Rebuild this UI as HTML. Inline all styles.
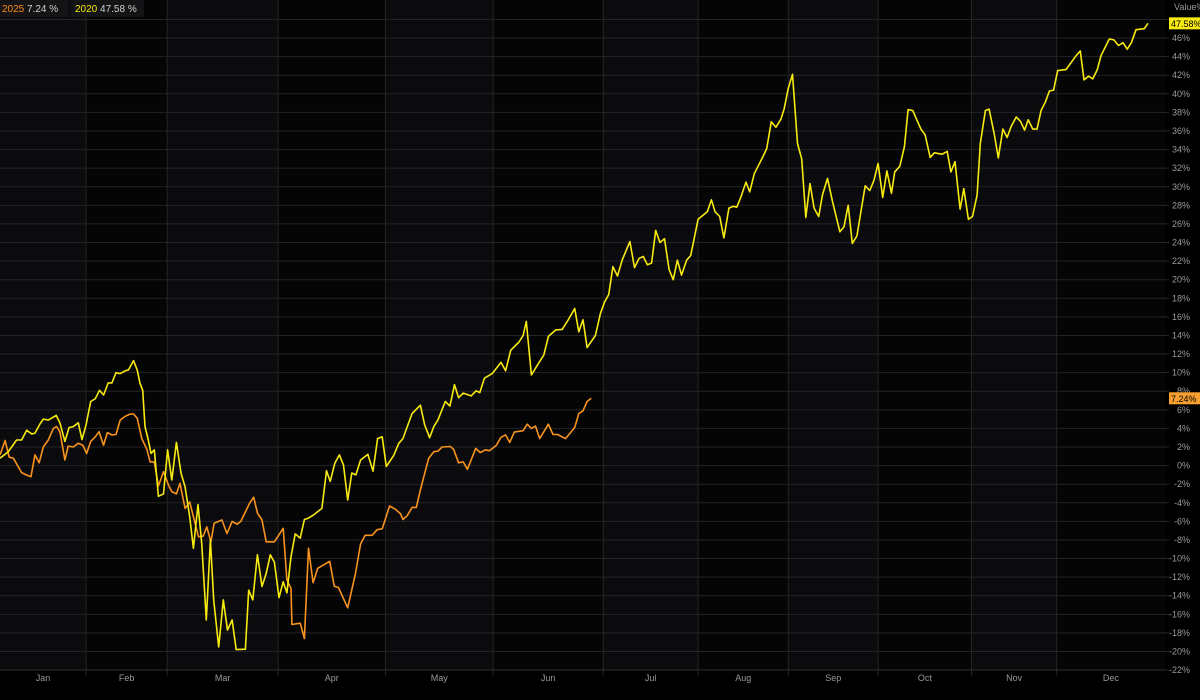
<!DOCTYPE html>
<html><head><meta charset="utf-8"><style>
html,body{margin:0;padding:0;background:#000;}
body{width:1200px;height:695px;overflow:hidden;font-family:"Liberation Sans",sans-serif;}
svg text{font-family:"Liberation Sans",sans-serif;}
</style></head><body>
<svg id="chart" width="1200" height="695" viewBox="0 0 1200 695" xmlns="http://www.w3.org/2000/svg">
<rect x="0" y="0" width="1200" height="695" fill="#000"/>
<g id="bands"></g><g id="grid"></g><g id="xaxis"></g><g id="yaxis"></g><g id="series"></g><g id="badges"></g>
<g>
<rect x="0" y="0" width="68" height="17" fill="#141416"/>
<rect x="71" y="0" width="73" height="17" fill="#141416"/>
<text x="2" y="12" font-size="10" fill="#ff8c1a">2025 <tspan fill="#cfcfcf">7.24 %</tspan></text>
<text x="75" y="12" font-size="10" fill="#f5e800">2020 <tspan fill="#cfcfcf">47.58 %</tspan></text>
</g>
<text x="1174" y="10" font-size="9" fill="#9a9a9a">Value%</text>
</svg>
<script>
const months = ["Jan","Feb","Mar","Apr","May","Jun","Jul","Aug","Sep","Oct","Nov","Dec"];
const monthStarts = [0,18.7,36.3,60.4,83.7,107.1,131,151.6,171.2,190.7,211,229.5,253];
const yTicks = [-22,-20,-18,-16,-14,-12,-10,-8,-6,-4,-2,0,2,4,6,8,10,12,14,16,18,20,22,24,26,28,30,32,34,36,38,40,42,44,46,48];
const days2020 = [0,1.8,3.6,4.7,5.8,6.9,7.6,8.7,9.4,10.5,12.2,13,14.1,15,15.9,17,17.8,18.7,19.7,20.7,21.6,22.5,23.5,24.3,25.2,26.1,27.2,27.9,29,29.8,30.4,31,31.5,32.2,32.8,33.5,34.4,35.5,36.4,37.3,38.3,39.3,40.2,41.2,42,43,43.8,44.8,45.7,46.4,47.5,48.5,49.4,50.4,51.3,53.3,54,54.9,55.9,56.9,57.8,58.7,59.6,60.6,61.5,62.3,63.2,64.1,65.2,66.1,67,68.1,69.9,70.9,71.7,72.7,73.7,74.6,75.5,76.4,77.3,78.3,79.9,81,82,83,83.9,85.5,86.6,87.5,89.5,91.3,92.2,93.3,94.2,95.1,96.7,97.7,98.7,99.6,100.6,102.3,103.4,104.2,105.2,106.9,108.8,109.8,110.9,112.7,113.6,114.3,115.4,116.7,118.1,119.1,120.7,122.1,123.3,124.8,125.7,126.6,127.5,129.3,130.4,131.3,132.2,133.1,134.1,135.1,136.8,137.8,138.8,139.7,140.6,141.5,142.4,143.3,144.3,145.3,146.2,147.1,148,149.1,150,151.6,153.6,154.5,155.3,156.3,157.2,158.3,159.3,160,160.9,162,162.8,163.8,165.6,166.5,167.5,168.5,169.6,170.3,171.2,172.1,173.2,174.1,175,175.9,176.8,177.8,178.6,179.7,180.8,182.4,183.3,184.2,185.1,186.1,187.9,188.9,189.8,190.7,191.7,192.6,193.6,194.3,195.4,196.4,197.2,198.2,199.1,200,200.9,202,202.9,204.6,205.7,206.5,207.4,208.5,209.3,210.3,211.2,212.2,212.9,214,214.8,215.9,216.8,217.8,218.7,219.6,220.7,221.6,222.5,223.3,224.3,225.2,226.1,227,227.9,228.8,229.7,231.5,233.7,234.6,235.4,236.4,237.3,238.3,239.1,240.9,241.9,242.9,243.9,244.8,245.7,246.7,248.5,249.3];
const values2020 = [0.8,1.5,2.75,2.75,3.8,3.4,3.5,4.5,5.0,4.9,5.4,4.6,2.6,4.1,4.2,4.6,2.8,4.4,6.9,7.2,8.1,7.6,8.9,8.9,10.0,9.9,10.2,10.3,11.3,10.3,8.85,8.1,4.2,2.75,1.3,1.7,-3.3,-3.05,1.7,-1.55,2.5,-0.8,-2.3,-5.5,-8.9,-4.2,-8.35,-16.6,-8.0,-14.45,-19.5,-14.45,-17.7,-16.6,-19.8,-19.75,-13.4,-14.45,-9.6,-13.0,-11.6,-9.6,-10.4,-14.2,-12.5,-13.7,-9.8,-7.35,-7.8,-5.8,-5.65,-5.3,-4.6,-0.55,-1.7,0.25,1.15,0.05,-3.7,-0.8,-1.0,0.6,1.2,-0.6,2.9,3.1,-0.1,1.1,2.4,2.9,5.6,6.5,4.4,3.0,4.2,4.9,6.9,6.4,8.7,7.3,7.8,7.5,8.05,7.85,9.4,9.9,11.1,10.2,12.4,13.3,14.0,15.5,9.75,10.8,11.9,13.9,14.6,14.65,15.6,16.9,14.4,15.7,12.7,14.0,16.4,17.6,18.4,21.4,20.4,22.1,24.1,21.3,22.3,22.5,21.6,21.8,25.3,24.0,24.4,21.1,20.0,22.1,20.5,22.1,22.6,26.5,27.3,28.6,27.3,26.8,24.5,27.7,27.9,27.8,28.9,30.5,29.45,31.4,33.15,34.1,37.0,36.4,37.3,38.4,40.6,42.1,34.65,33.0,26.7,30.35,27.7,26.8,29.1,30.9,28.4,25.15,25.7,28.0,23.9,24.7,30.1,29.6,30.7,32.5,28.85,31.7,29.3,31.6,32.2,34.3,38.3,38.2,37.2,36.2,35.6,33.15,33.65,33.5,33.8,31.6,32.7,27.6,29.8,26.5,26.8,29.1,34.65,38.2,38.35,35.7,33.1,36.2,35.3,36.5,37.5,37.05,36.1,37.2,36.2,36.2,38.2,39.1,40.3,40.4,42.5,42.6,44.1,44.6,41.5,41.9,41.6,42.6,44.1,45.9,45.8,45.2,45.5,44.8,45.5,46.9,47.0,47.58];
const days2025 = [0,1.1,2,2.9,4.7,5.7,6.7,7.6,8.5,9.4,10.5,11.6,12.3,13,14.1,14.8,15.9,17,18,18.8,19.7,20.7,21.5,22.5,23.3,24.3,25.2,26.1,27.2,28.3,29,29.8,30.8,31.9,32.6,33.5,34.4,35.5,36.6,37.3,38.3,39.1,40.2,41.2,42,43.1,44.1,44.9,45.8,46.5,48.2,49.3,50.4,51.5,52.3,54.2,55.1,55.9,56.9,57.8,59.6,61.5,62.3,63.2,63.4,65.2,66.1,67,68,69,71.6,72.6,73.5,75.5,77.2,78.3,79.3,80.8,81.9,83,84.6,85.9,87,87.5,88.4,89.5,90.4,91.3,93.1,94.2,95.1,96,97.8,98.5,99.6,100.6,101.5,103.3,104.3,105.4,106.3,107.8,108.8,109.8,110.7,111.7,113.6,114.5,115.4,116.3,117.2,119.1,120.1,121.1,122.8,124.8,125.7,126.6,127.5,128.4];
const values2025 = [1.15,2.7,0.9,0.8,-0.75,-1.0,-1.2,1.15,0.3,2.0,2.75,4.0,4.2,3.65,0.6,2.1,2.0,2.4,2.2,1.3,2.6,3.1,3.65,2.2,3.55,3.3,3.35,4.9,5.3,5.55,5.55,5.1,2.9,1.75,0.4,0.4,-2.2,-0.65,-2.1,-2.8,-3.05,-1.9,-4.6,-3.9,-5.5,-7.65,-7.6,-6.6,-8.2,-6.2,-5.85,-7.3,-6.0,-6.3,-6.0,-4.05,-3.4,-5.1,-5.85,-8.2,-8.2,-6.75,-12.3,-13.2,-17.1,-16.95,-18.6,-8.9,-12.6,-11.05,-10.3,-13.0,-13.1,-15.3,-11.6,-8.4,-7.5,-7.5,-6.9,-6.8,-4.35,-4.7,-5.2,-5.8,-5.4,-4.5,-4.5,-2.6,0.8,1.5,1.55,2.0,2.05,1.75,0.3,0.4,-0.4,1.85,1.4,1.7,1.6,2.2,3.05,3.3,2.5,3.6,3.75,4.45,4.0,4.25,2.9,4.45,3.35,3.35,2.9,4.1,5.6,5.9,6.9,7.24];

const NS = "http://www.w3.org/2000/svg";
const PLOT_R = 1165, PLOT_B = 670;
function xS(d){ return d * PLOT_R / 253; }
function yS(v){ return 465.6 - v * 9.295; }
function mk(tag, attrs, parent){ const e = document.createElementNS(NS, tag); for (const k in attrs) e.setAttribute(k, attrs[k]); parent.appendChild(e); return e; }

const bands = document.getElementById('bands');
for (let i = 0; i < months.length; i++) {
  const r = mk('rect', {x: xS(monthStarts[i]), y: 0, width: xS(monthStarts[i+1]) - xS(monthStarts[i]), height: PLOT_B, fill: i % 2 === 0 ? '#0b0b0d' : '#050506'}, bands);
  
  
}
const grid = document.getElementById('grid');
const yaxis = document.getElementById('yaxis');
yTicks.forEach(t => {
  const y = yS(t);
  const l = mk('line', {x1: 0, x2: PLOT_R + 4, y1: y, y2: y, stroke: '#242426', 'stroke-width': 1}, grid);
  
  
  if (t === 48) return;
  const tx = mk('text', {x: 1190, y: y + 3, 'font-size': 9, fill: '#9a9a9a', 'text-anchor': 'end'}, yaxis);
  tx.textContent = t + '%';
  
  
});
const xaxis = document.getElementById('xaxis');
for (let i = 1; i < months.length; i++) {
  const x = xS(monthStarts[i]);
  const l = mk('line', {x1: x, x2: x, y1: 0, y2: PLOT_B + 6, stroke: '#252527', 'stroke-width': 1}, grid);
  
  
}
mk('line', {x1: 0, x2: PLOT_R, y1: PLOT_B, y2: PLOT_B, stroke: '#2c2c2e'}, grid);
months.forEach((m, i) => {
  const x = (xS(monthStarts[i]) + xS(monthStarts[i+1])) / 2;
  const t = mk('text', {x: x, y: 681, 'font-size': 9, fill: '#9a9a9a', 'text-anchor': 'middle'}, xaxis);
  t.textContent = m;
  
  
});
const series = document.getElementById('series');
function line(days, vals, color, name){
  const pts = days.map((d, i) => xS(d).toFixed(1) + ',' + yS(vals[i]).toFixed(1)).join(' ');
  const p = mk('polyline', {points: pts, fill: 'none', stroke: color, 'stroke-width': 1.6, 'stroke-linejoin': 'round'}, series);
  
  
}
line(days2025, values2025, '#f7931e', 'series-2025-line');
line(days2020, values2020, '#f7ea10', 'series-2020-line');
const badges = document.getElementById('badges');
function badge(v, bg, name){
  const y = yS(v);
  const r = mk('rect', {x: 1169, y: y - 6, width: 31, height: 12, fill: bg}, badges);
  
  
  const t = mk('text', {x: 1171, y: y + 3.5, 'font-size': 9, fill: '#000'}, badges);
  t.textContent = v.toFixed(2) + '%';
  
  
}
badge(values2020[values2020.length - 1], '#f7ea10', 'last-value-badge-2020');
badge(values2025[values2025.length - 1], '#f7a030', 'last-value-badge-2025');
</script>
</body></html>
